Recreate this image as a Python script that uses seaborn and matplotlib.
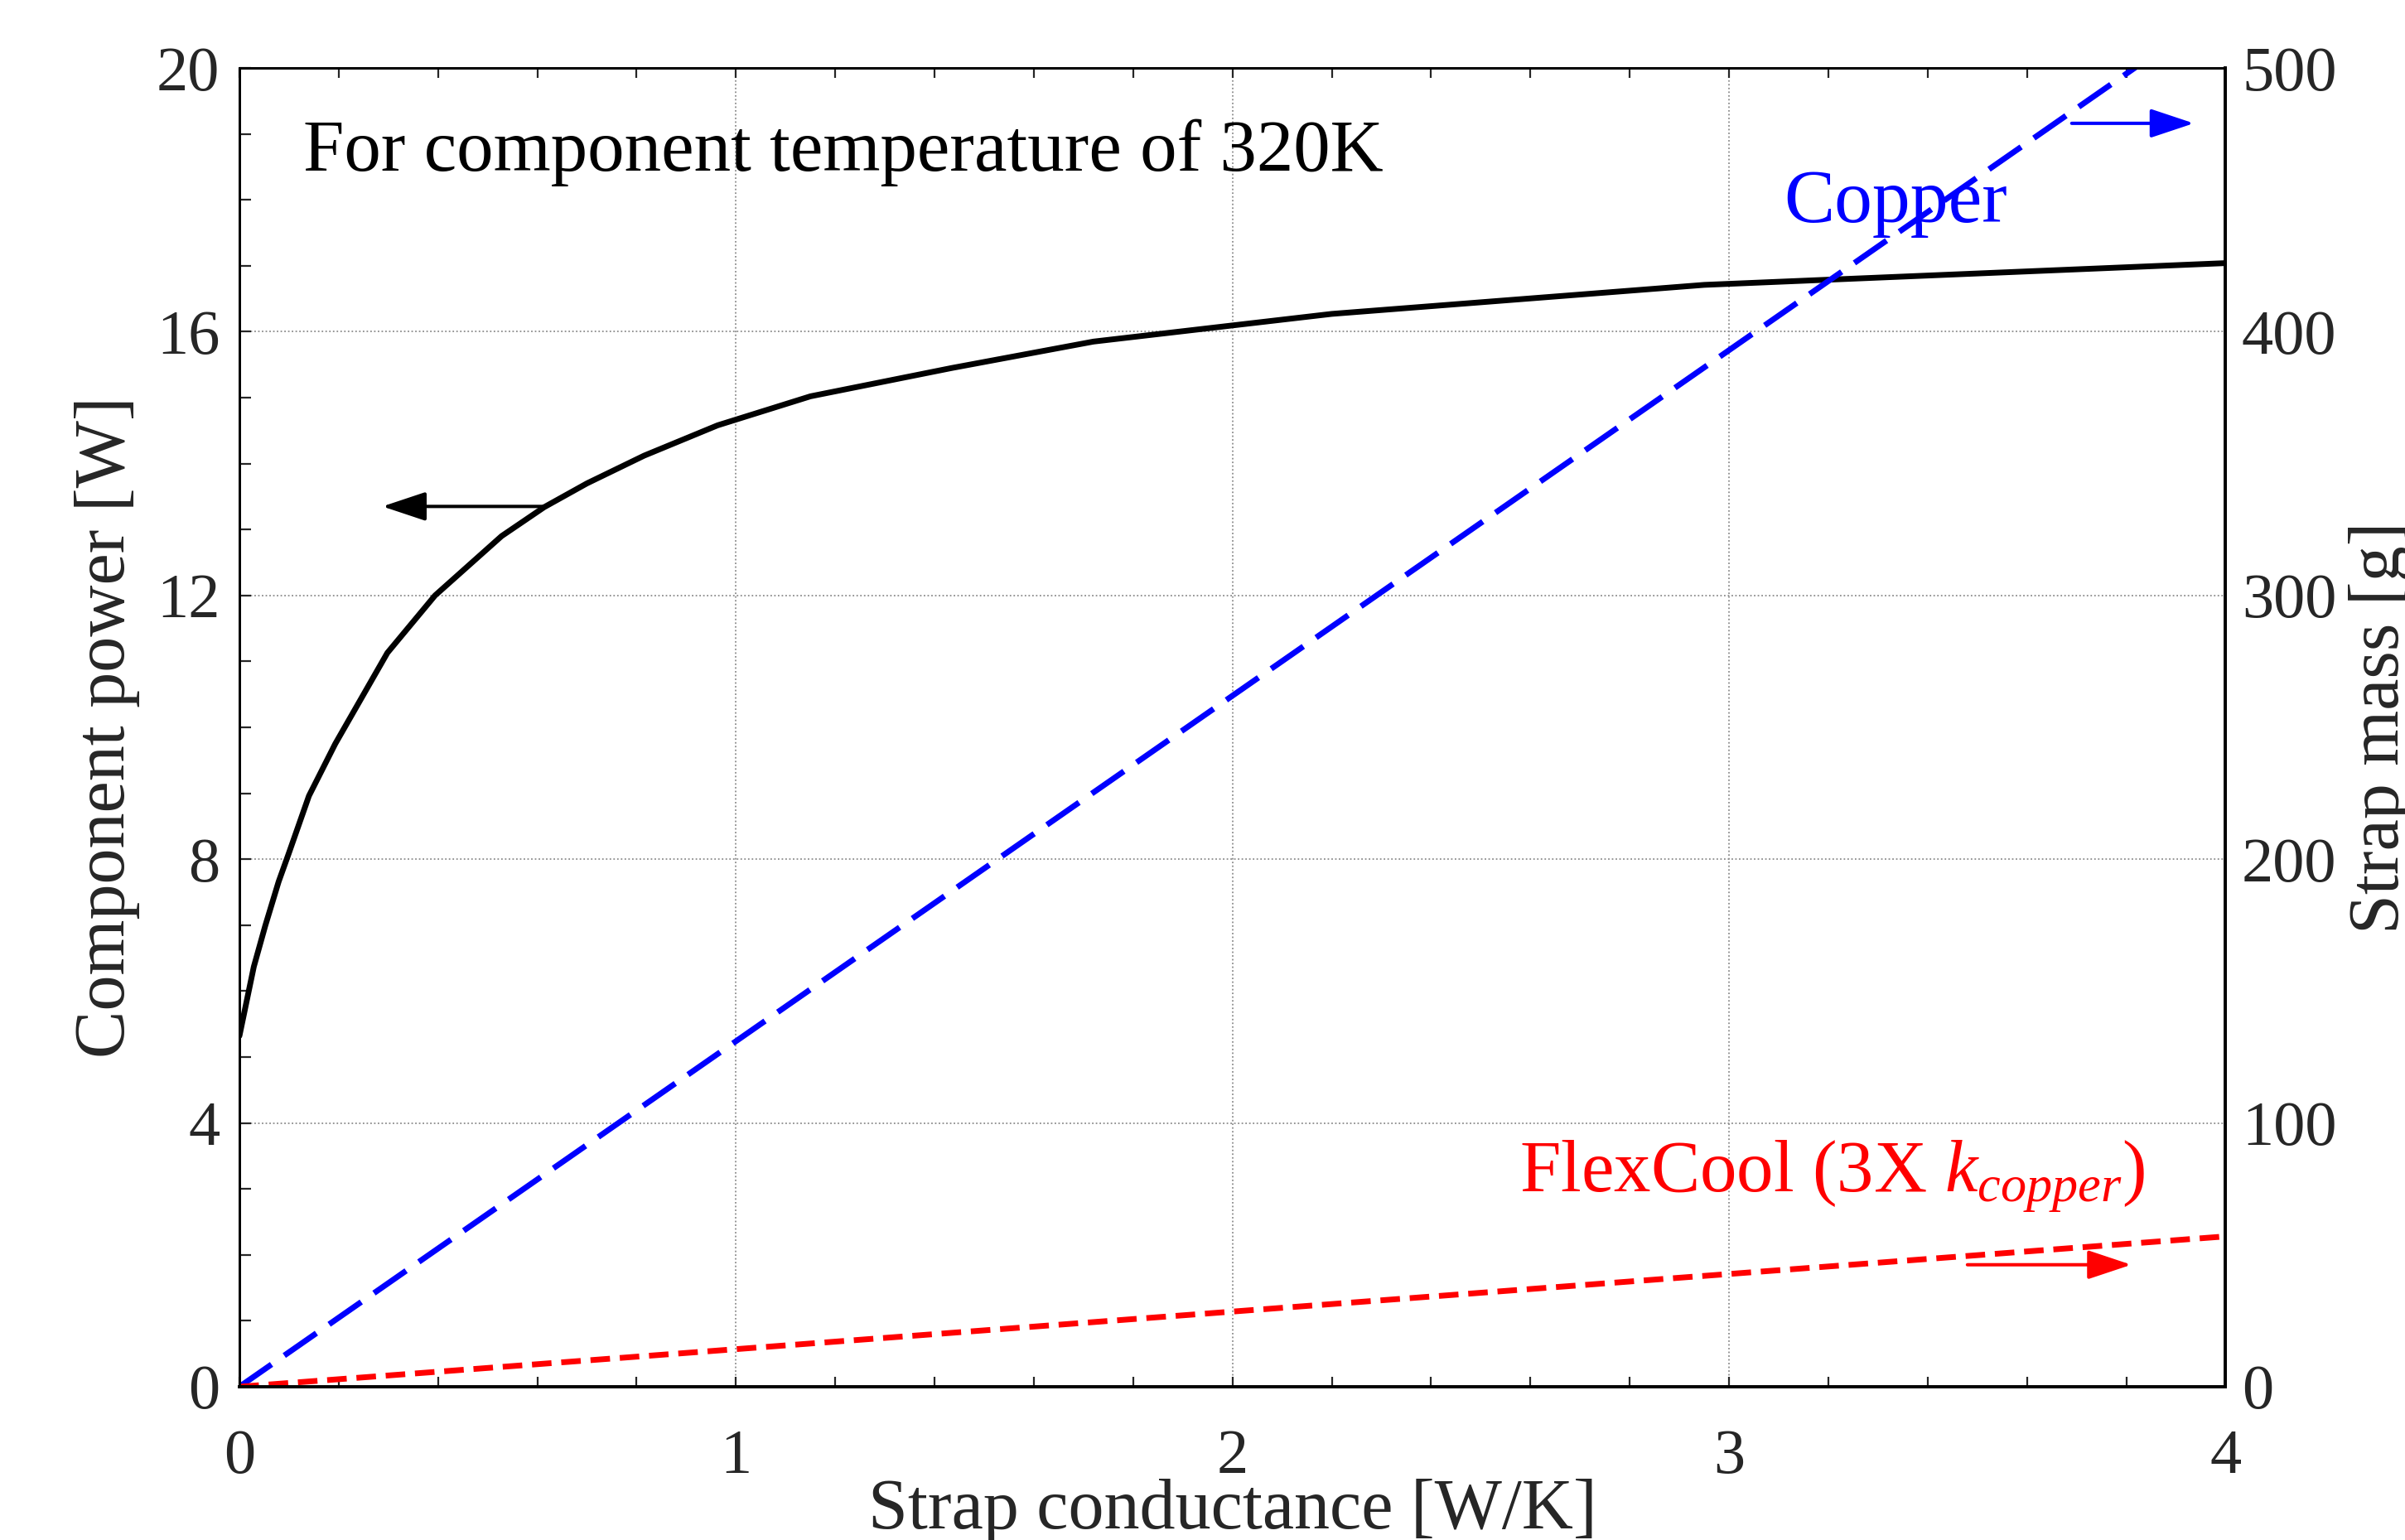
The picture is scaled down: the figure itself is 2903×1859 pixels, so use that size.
import numpy as np
import pandas as pd
import matplotlib
matplotlib.use("Agg")
import matplotlib.pyplot as plt
import seaborn as sns

# ---- data ----
conductance = [0, 0.029, 0.052, 0.079, 0.099, 0.14, 0.193, 0.298, 0.394, 0.528,
               0.614, 0.70, 0.815, 0.963, 1.15, 1.435, 1.72, 2.2, 2.95, 4.0]
component_power = [5.32, 6.37, 6.99, 7.66, 8.08, 8.96, 9.75, 11.13, 12.0, 12.9,
                   13.34, 13.7, 14.12, 14.58, 15.02, 15.45, 15.85, 16.27, 16.71, 17.04]

mass_x = [0, 4]
copper_mass = [0, 524]
flexcool_mass = [0, 57]

x_ticks = [0, 1, 2, 3, 4]
left_ticks = [0, 4, 8, 12, 16, 20]
right_ticks = [0, 100, 200, 300, 400, 500]

title_text = "For component temperature of 320K"
copper_label = "Copper"
flex_label = r"FlexCool (3X $k_{copper}$)"

# ---- style ----
sns.set_style("ticks")
plt.rcParams['font.family'] = ['Liberation Serif', 'DejaVu Serif']
plt.rcParams['mathtext.fontset'] = 'custom'
plt.rcParams['mathtext.rm'] = 'Liberation Serif'
plt.rcParams['mathtext.it'] = 'Liberation Serif:italic'
plt.rcParams['mathtext.bf'] = 'Liberation Serif:bold'

fig = plt.figure(figsize=(29.03, 18.59), dpi=100)
ax = fig.add_axes([0.09955, 0.09952, 0.92542 - 0.09955, 0.95589 - 0.09952])
ax2 = ax.twinx()

TICK_FS = 55
LABEL_FS = 62
NOTE_FS = 64

# black curve
sns.lineplot(x=conductance, y=component_power, ax=ax, color='black', linewidth=5.0)

# right-axis lines
sns.lineplot(x=mass_x, y=copper_mass, ax=ax2, color='#0000ff', linewidth=5.0,
             linestyle=(0, (6.8, 2.7)))
sns.lineplot(x=mass_x, y=flexcool_mass, ax=ax2, color='#ff0000', linewidth=5.0,
             linestyle=(0, (3.4, 1.7)))

ax.set_xlim(0, 4)
ax.set_ylim(0, 20)
ax2.set_ylim(0, 500)

ax.set_xticks(x_ticks)
ax.set_xticklabels([str(v) for v in x_ticks])
ax.set_xticks(np.arange(0, 4.01, 0.2), minor=True)
ax.set_yticks(left_ticks)
ax.set_yticklabels([str(v) for v in left_ticks])
ax.set_yticks(np.arange(0, 20.01, 1), minor=True)
ax2.set_yticks(right_ticks)
ax2.set_yticklabels([str(v) for v in right_ticks])

ax.tick_params(axis='x', which='both', direction='in', top=True, bottom=True,
               length=12 * 0.72, width=1.6, labelsize=TICK_FS, pad=37)
ax.tick_params(axis='y', which='both', direction='in', left=True, right=False,
               length=14 * 0.72, width=1.6, labelsize=TICK_FS, pad=17)
ax2.tick_params(axis='y', which='both', direction='in', length=0,
                labelsize=TICK_FS, pad=14)

ax.grid(True, which='major', color='#8c8c8c', linestyle=(0, (1, 1.5)), linewidth=1.3)
ax2.grid(False)

for name, sp in ax.spines.items():
    sp.set_color('black')
    sp.set_linewidth(2.1)
for name, sp in ax2.spines.items():
    sp.set_color('black')
    sp.set_linewidth(2.1)
ax2.spines['right'].set_linewidth(2.8)
ax2.spines['bottom'].set_linewidth(2.8)

ax.set_xlabel("Strap conductance [W/K]", fontsize=LABEL_FS, labelpad=-7)
ax.set_ylabel("Component power [W]", fontsize=LABEL_FS, labelpad=14)
ax2.set_ylabel("Strap mass [g]", fontsize=LABEL_FS, labelpad=10)

# texts
ax.text(0.129, 18.44, title_text, fontsize=NOTE_FS, color='black', va='baseline', ha='left')
ax.text(3.11, 17.66, copper_label, fontsize=66, color='#0000ff', va='baseline', ha='left')
ax.text(2.577, 2.97, flex_label, fontsize=NOTE_FS, color='#ff0000', va='baseline', ha='left')

# arrows
arrow_style = '-|>,head_length=0.6,head_width=0.2'
ax.annotate('', xy=(0.288, 13.35), xytext=(0.619, 13.35),
            arrowprops=dict(arrowstyle=arrow_style, mutation_scale=54, lw=2.9,
                            color='black', shrinkA=0, shrinkB=0))
ax.annotate('', xy=(3.936, 19.16), xytext=(3.69, 19.16),
            arrowprops=dict(arrowstyle=arrow_style, mutation_scale=54, lw=2.9,
                            color='#0000ff', shrinkA=0, shrinkB=0))
ax.annotate('', xy=(3.81, 1.85), xytext=(3.48, 1.85),
            arrowprops=dict(arrowstyle=arrow_style, mutation_scale=54, lw=2.9,
                            color='#ff0000', shrinkA=0, shrinkB=0))

fig.savefig("out.png", dpi=100)
